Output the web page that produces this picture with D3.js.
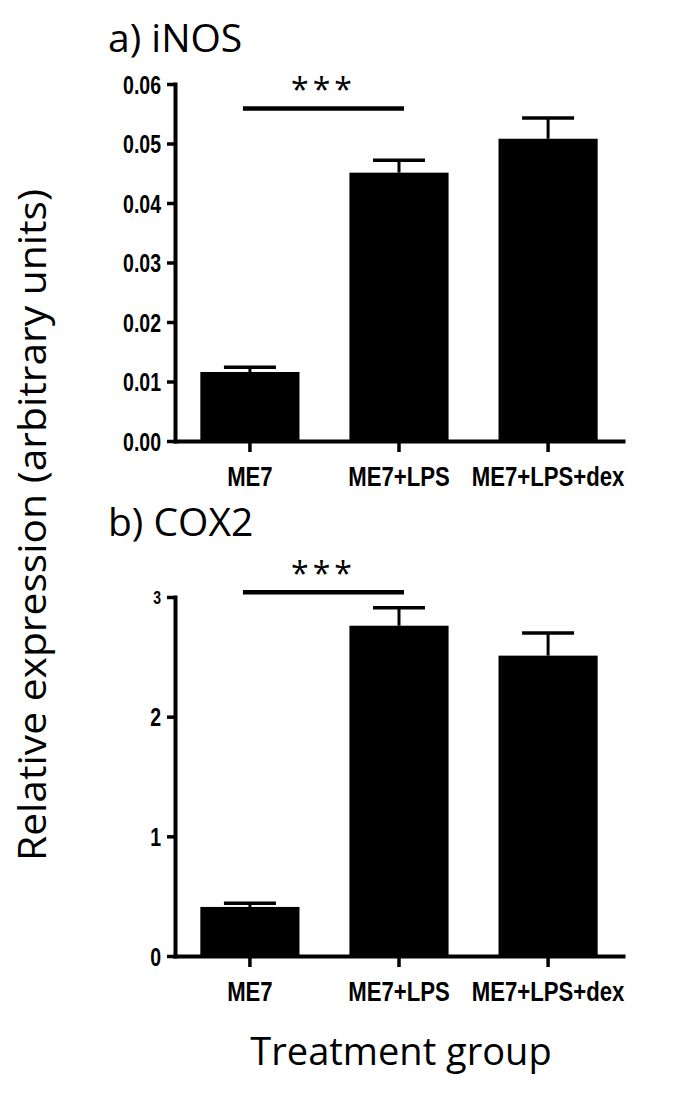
<!DOCTYPE html>
<html>
<head>
<meta charset="utf-8">
<script src="https://cdn.jsdelivr.net/npm/d3@7"></script>
<style>
  body { margin: 0; background: #fff; }
  .tick text { font-family: "Liberation Sans", Arial, sans-serif; font-weight: bold; fill: #000; }
  .big { font-family: "Open Sans", sans-serif; fill: #000; }
</style>
</head>
<body>
<script>
const w = 685;
const h = 1112;

const groups = ["ME7", "ME7+LPS", "ME7+LPS+dex"];

// a) iNOS
const inosMean = [0.0116, 0.0451, 0.0508];
const inosErr = [0.0008, 0.0021, 0.0035];
const inosTicks = [0, 0.01, 0.02, 0.03, 0.04, 0.05, 0.06];
const inosSig = 0.0559;

// b) COX2
const coxMean = [0.41, 2.76, 2.51];
const coxErr = [0.03, 0.15, 0.19];
const coxTicks = [0, 1, 2, 3];
const coxSig = 3.04;

const svg = d3.select("body")
    .append("svg")
    .attr("width", w)
    .attr("height", h)
    ;

const xScale = d3.scaleBand()
    .domain(groups)
    .range([175, 623])
    .paddingInner(0.335)
    .paddingOuter(0.17)
    ;

// narrow bold look: squeeze Liberation Sans Bold like Arial Narrow
function narrow(sel, k) {
    sel.each(function () {
        const len = this.getComputedTextLength();
        d3.select(this)
            .attr("textLength", len * k)
            .attr("lengthAdjust", "spacingAndGlyphs");
    });
}

function drawPanel(opts) {
    const yScale = d3.scaleLinear()
        .domain(opts.domain)
        .range([opts.bottom, opts.top])
        ;
    const g = svg.append("g");

    // bars
    g.selectAll("rect.bar")
        .data(opts.mean)
        .join("rect")
        .attr("class", "bar")
        .attr("x", (d, i) => xScale(groups[i]))
        .attr("width", xScale.bandwidth())
        .attr("y", d => yScale(d))
        .attr("height", d => yScale(0) - yScale(d))
        .attr("fill", "#000")
        ;

    // error bars (upper only)
    const cx = i => xScale(groups[i]) + xScale.bandwidth() / 2;
    g.selectAll("line.err")
        .data(opts.mean)
        .join("line")
        .attr("class", "err")
        .attr("x1", (d, i) => cx(i))
        .attr("x2", (d, i) => cx(i))
        .attr("y1", d => yScale(d))
        .attr("y2", (d, i) => yScale(d + opts.err[i]))
        .attr("stroke", "#000")
        .attr("stroke-width", 3)
        ;
    g.selectAll("line.cap")
        .data(opts.mean)
        .join("line")
        .attr("class", "cap")
        .attr("x1", (d, i) => cx(i) - 26)
        .attr("x2", (d, i) => cx(i) + 26)
        .attr("y1", (d, i) => yScale(d + opts.err[i]))
        .attr("y2", (d, i) => yScale(d + opts.err[i]))
        .attr("stroke", "#000")
        .attr("stroke-width", 3.5)
        ;

    // axes
    const yAxis = d3.axisLeft(yScale)
        .tickValues(opts.ticks)
        .tickFormat(opts.fmt)
        .tickSize(8)
        .tickSizeOuter(0)
        .tickPadding(6)
        ;
    const ya = g.append("g")
        .attr("transform", "translate(175, 0)")
        .call(yAxis)
        ;
    ya.selectAll("text").attr("font-size", 25).attr("dy", "0.36em");
    if (opts.smallTop) {
        ya.selectAll(".tick").filter(d => d === opts.ticks[opts.ticks.length - 1])
            .select("text").attr("font-size", 18);
    }
    ya.selectAll("text").call(narrow, 0.78);

    const xAxis = d3.axisBottom(xScale)
        .tickSize(11)
        .tickSizeOuter(0)
        .tickPadding(15)
        ;
    const xa = g.append("g")
        .attr("transform", "translate(0, " + yScale(0) + ")")
        .call(xAxis)
        ;
    xa.selectAll("text").attr("font-size", 27).call(narrow, 0.82);

    [ya, xa].forEach(a => {
        a.select(".domain").attr("stroke-width", 4).attr("stroke-linecap", "square");
        a.selectAll(".tick line").attr("stroke-width", 3.5);
    });

    // significance
    const sx1 = cx(0) - 7;
    const sx2 = cx(1) + 5;
    g.append("line")
        .attr("x1", sx1)
        .attr("x2", sx2)
        .attr("y1", yScale(opts.sig))
        .attr("y2", yScale(opts.sig))
        .attr("stroke", "#000")
        .attr("stroke-width", 4.5)
        ;
    g.append("text")
        .attr("class", "big")
        .attr("x", (sx1 + sx2) / 2)
        .attr("y", yScale(opts.sig) - 7)
        .attr("text-anchor", "middle")
        .attr("font-size", 32)
        .attr("letter-spacing", 4)
        .text("***")
        ;

    // panel title
    svg.append("text")
        .attr("class", "big")
        .attr("x", 108)
        .attr("y", opts.titleY)
        .attr("font-size", 39)
        .text(opts.title)
        ;
}

drawPanel({
    title: "a) iNOS", titleY: 52,
    mean: inosMean, err: inosErr, ticks: inosTicks, sig: inosSig,
    domain: [0, 0.06], top: 84, bottom: 441,
    fmt: d3.format(".2f")
});

drawPanel({
    title: "b) COX2", titleY: 536,
    mean: coxMean, err: coxErr, ticks: coxTicks, sig: coxSig,
    domain: [0, 3], top: 597, bottom: 956,
    fmt: d3.format("d"), smallTop: true
});

svg.append("text")
    .attr("class", "big")
    .attr("transform", "translate(46, 525) rotate(-90)")
    .attr("text-anchor", "middle")
    .attr("font-size", 39)
    .attr("textLength", 672)
    .attr("lengthAdjust", "spacingAndGlyphs")
    .text("Relative expression (arbitrary units)")
    ;

svg.append("text")
    .attr("class", "big")
    .attr("x", 401)
    .attr("y", 1065)
    .attr("text-anchor", "middle")
    .attr("font-size", 38)
    .text("Treatment group")
    ;
</script>
</body>
</html>
